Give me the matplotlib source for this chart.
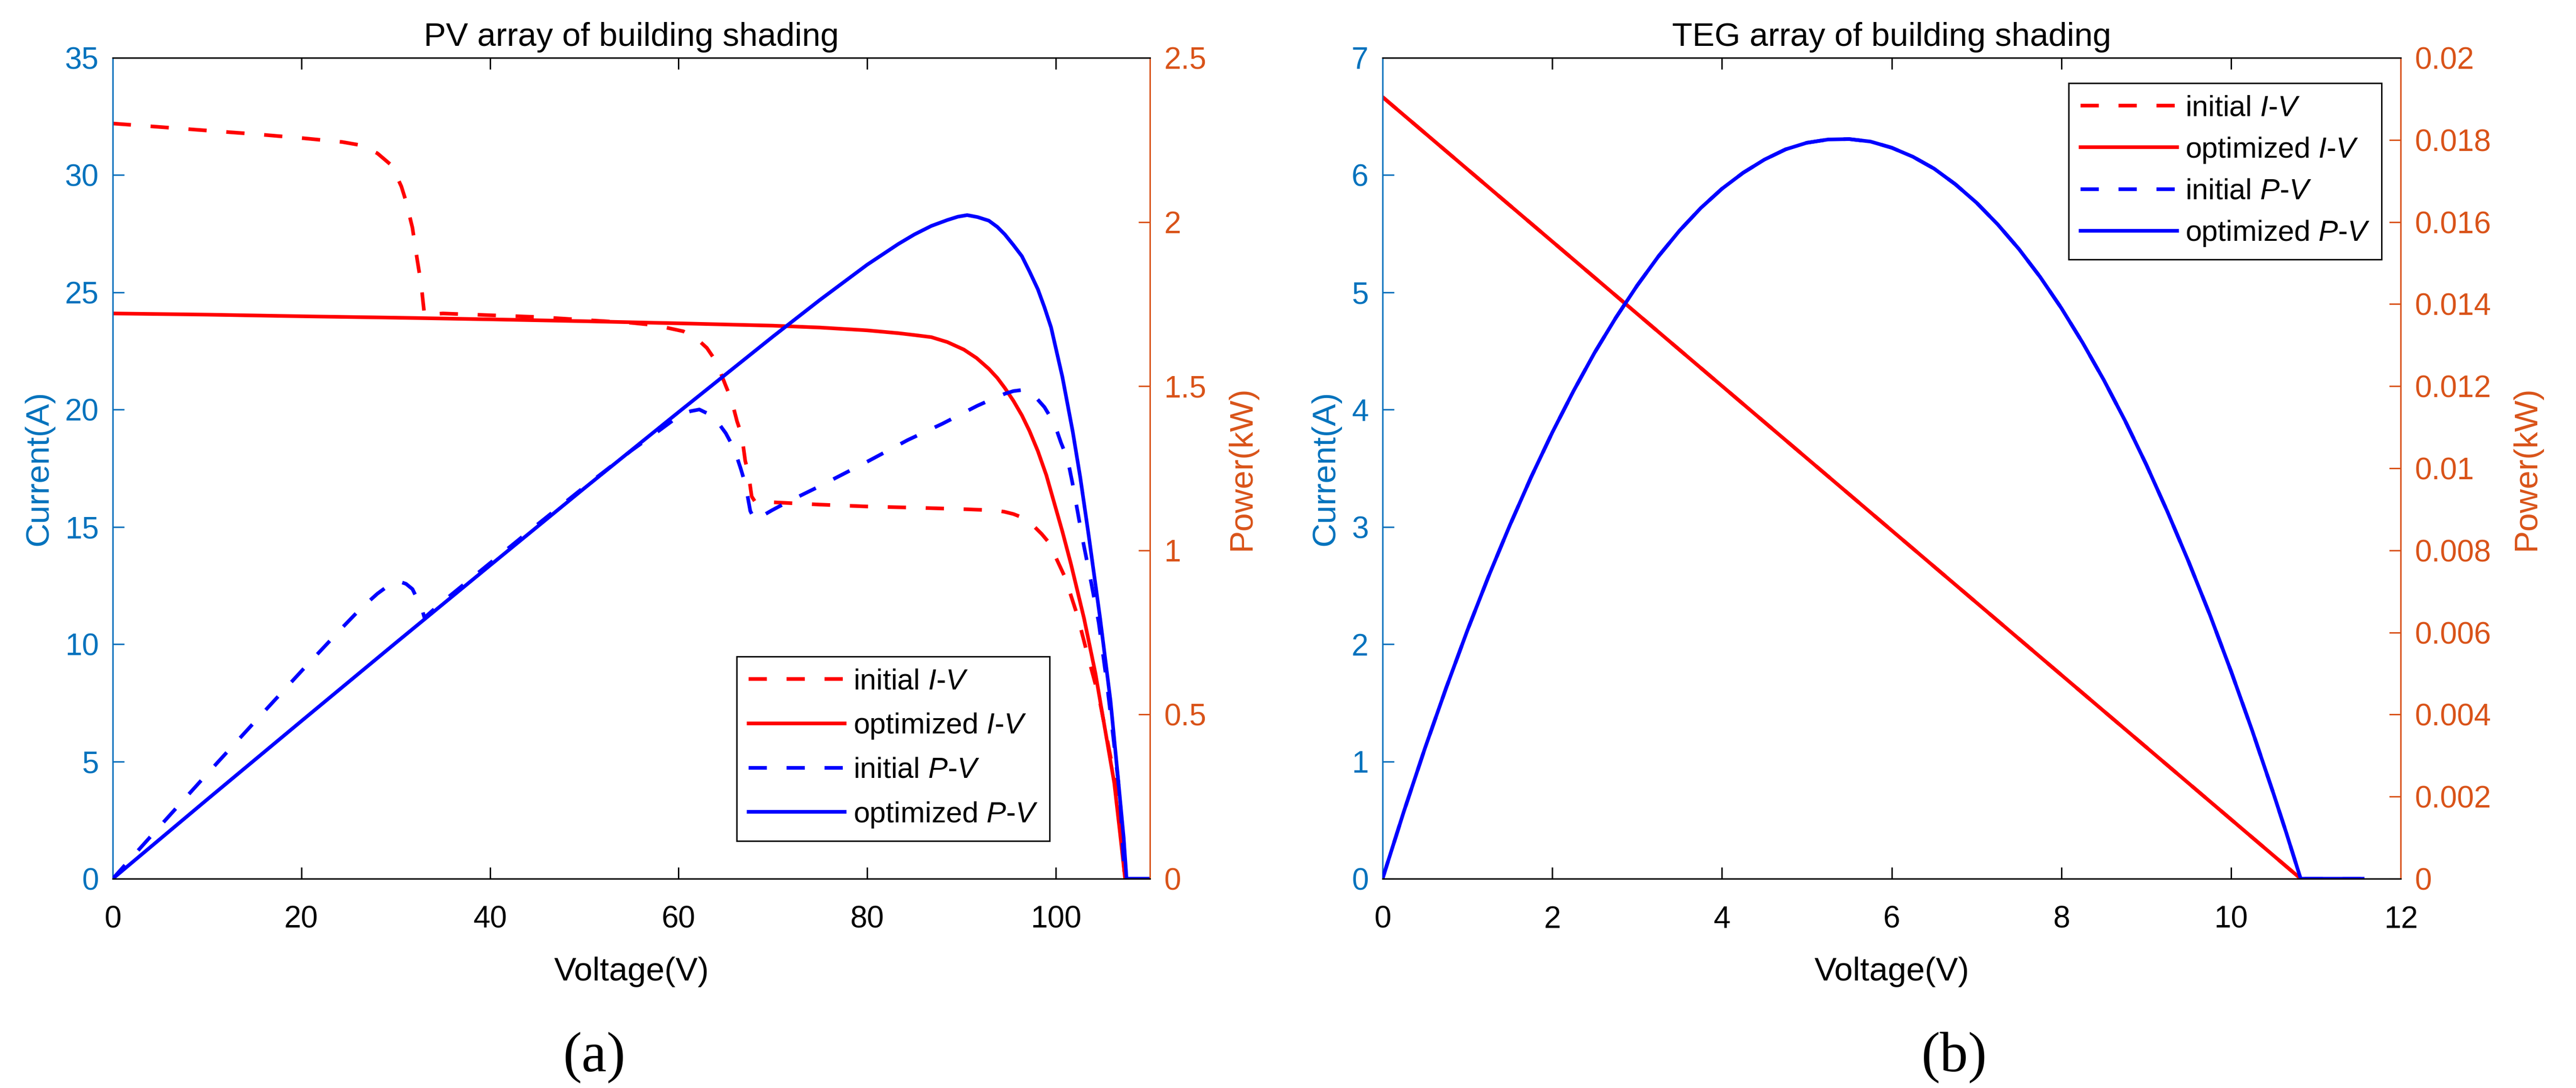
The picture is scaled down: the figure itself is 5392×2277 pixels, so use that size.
import matplotlib
matplotlib.use("Agg")
import matplotlib.pyplot as plt
from matplotlib.ticker import FuncFormatter, MultipleLocator

plt.rcParams["font.family"] = ["Liberation Sans", "DejaVu Sans"]
plt.rcParams["mathtext.fontset"] = "custom"
plt.rcParams["mathtext.rm"] = "Liberation Sans"
plt.rcParams["mathtext.it"] = "Liberation Sans:italic"

CUR_COLOR = "#0072BD"
POW_COLOR = "#D95319"
RED = "#FF0000"
BLUE = "#0000FF"

# ---------------- PV array (panel a) ----------------
pv_init_iv_v = [0, 5, 10, 15, 20, 24.35, 26.2, 28.06, 29.58, 30.6, 31.1, 31.78, 32.29, 32.71,
                33.05, 35, 45, 55, 57.5, 60.5, 62, 63, 64, 65, 65.6, 66.2, 66.7, 67.07, 67.4,
                67.75, 68.1, 70, 75, 80, 85, 90, 93.2, 94.5, 95.5, 96.2, 97.0, 97.8, 98.5,
                99.15, 100.0, 100.98, 102.3, 103.35, 104.6, 105.5, 106.4, 107.0, 107.3]
pv_init_iv_i = [32.2, 32.05, 31.9, 31.75, 31.58, 31.41, 31.28, 30.93, 30.41, 29.52, 28.88, 27.75,
                26.38, 25.33, 24.04, 24.1, 23.95, 23.7, 23.6, 23.34, 23.0, 22.63, 22.04, 21.02,
                20.43, 19.5, 18.91, 17.81, 17.3, 16.3, 16.08, 16.05, 15.95, 15.87, 15.82, 15.76,
                15.71, 15.65, 15.55, 15.44, 15.25, 14.98, 14.7, 14.39, 13.7, 12.85, 11.21, 9.57,
                7.70, 5.83, 3.96, 2.09, 0]

pv_opt_iv_v = [0, 10, 20, 30, 40, 50, 60, 70, 75, 80, 83.3, 85, 86.8, 88.5, 90.25, 91.6, 92.9,
               93.8, 94.6, 95.5, 96.4, 97.2, 98.1, 99.0, 99.85, 100.7, 101.6, 103.0, 104.2,
               105.2, 106.2, 106.8, 107.35]
pv_opt_iv_i = [24.1, 24.05, 23.98, 23.92, 23.85, 23.77, 23.68, 23.58, 23.5, 23.38, 23.26, 23.18,
               23.09, 22.88, 22.56, 22.2, 21.74, 21.35, 20.92, 20.38, 19.76, 19.1, 18.23, 17.2,
               16.0, 14.8, 13.43, 11.09, 8.76, 6.42, 4.08, 1.98, 0]

pv_init_pv_v = [0, 5, 10, 15, 20, 24.35, 26.2, 28.06, 29.58, 30.1, 30.6, 31.1, 31.78, 32.29,
                32.71, 33.05, 35, 40, 45, 50, 55, 58, 60.3, 61.3, 62.2, 63.7, 65.0, 65.9, 66.6,
                67.1, 67.6, 68.1, 69.9, 71.6, 75, 80, 84.3, 88.0, 91.65, 93.6, 94.6, 95.5, 96.3,
                97.2, 98.0, 98.8, 99.85, 100.55, 101.25, 101.8, 102.8, 103.7, 104.55, 105.4,
                106.1, 106.8, 107.3]
pv_init_pv_p = [0, 0.160, 0.319, 0.476, 0.632, 0.765, 0.820, 0.868, 0.900, 0.903, 0.903, 0.898,
                0.882, 0.852, 0.829, 0.795, 0.844, 0.961, 1.078, 1.193, 1.304, 1.366, 1.415,
                1.424, 1.429, 1.408, 1.357, 1.309, 1.248, 1.200, 1.120, 1.092, 1.122, 1.148,
                1.196, 1.270, 1.336, 1.386, 1.440, 1.465, 1.477, 1.485, 1.488, 1.480, 1.462,
                1.436, 1.386, 1.328, 1.278, 1.200, 1.040, 0.910, 0.780, 0.600, 0.430, 0.250, 0]

pv_opt_pv_v = [0, 10, 20, 30, 40, 50, 60, 70, 75, 80, 83.3, 85, 86.8, 88.5, 89.6, 90.6, 91.7,
               92.9, 93.8, 94.6, 95.5, 96.4, 97.2, 98.1, 98.8, 99.5, 100.7, 101.8, 102.6, 103.5,
               104.7, 105.8, 106.65, 107.2, 107.5, 110]
pv_opt_pv_p = [0, 0.241, 0.480, 0.718, 0.954, 1.189, 1.421, 1.651, 1.763, 1.870, 1.933, 1.962,
               1.988, 2.006, 2.016, 2.021, 2.015, 2.004, 1.985, 1.962, 1.930, 1.896, 1.850,
               1.795, 1.740, 1.679, 1.528, 1.361, 1.221, 1.043, 0.793, 0.542, 0.291, 0.124, 0, 0]

# ---------------- TEG array (panel b) ----------------
teg_iv_v = [0, 10.82]
teg_iv_i = [6.666, 0]

teg_pv_v = [0, 0.25, 0.5, 0.75, 1.0, 1.25, 1.5, 1.75, 2.0, 2.25, 2.5, 2.75, 3.0, 3.25, 3.5, 3.75,
            4.0, 4.25, 4.5, 4.75, 5.0, 5.25, 5.5, 5.75, 6.0, 6.25, 6.5, 6.75, 7.0, 7.25, 7.5,
            7.75, 8.0, 8.25, 8.5, 8.75, 9.0, 9.25, 9.5, 9.75, 10.0, 10.25, 10.5, 10.65, 10.82,
            11.55]
teg_pv_p = [0, 0.00163, 0.00318, 0.00465, 0.00605, 0.00737, 0.00861, 0.00978, 0.01087, 0.01188,
            0.01282, 0.01367, 0.01445, 0.01516, 0.01579, 0.01634, 0.01681, 0.01720, 0.01752,
            0.01777, 0.01793, 0.01801, 0.01802, 0.01796, 0.01781, 0.01759, 0.01730, 0.01692,
            0.01647, 0.01594, 0.01534, 0.01466, 0.01390, 0.01306, 0.01215, 0.01116, 0.01009,
            0.00894, 0.00772, 0.00643, 0.00505, 0.00360, 0.00207, 0.00112, 0, 0]

legend_labels = ["initial $\\mathit{I}$-$\\mathit{V}$",
                 "optimized $\\mathit{I}$-$\\mathit{V}$",
                 "initial $\\mathit{P}$-$\\mathit{V}$",
                 "optimized $\\mathit{P}$-$\\mathit{V}$"]

LW = 5.5
DASH = (0, (5, 5.4))
TICK_FS = 46
LABEL_FS = 50
SPINE_LW = 2.2


def g_fmt(x, pos):
    return "%g" % round(x, 6)


def build_panel(rect, title, xlim, xstep, ylim_i, ystep_i, ylim_p, ystep_p,
                init_iv, opt_iv, init_pv, opt_pv, legend_anchor, legend_loc, lspace):
    ax = fig.add_axes(rect)
    ax2 = ax.twinx()

    l1, = ax.plot(*init_iv, color=RED, lw=LW, linestyle=DASH)
    l2, = ax.plot(*opt_iv, color=RED, lw=LW)
    l3, = ax2.plot(*init_pv, color=BLUE, lw=LW, linestyle=DASH)
    l4, = ax2.plot(*opt_pv, color=BLUE, lw=LW)

    ax.set_xlim(*xlim)
    ax.xaxis.set_major_locator(MultipleLocator(xstep))
    ax.set_ylim(*ylim_i)
    ax.yaxis.set_major_locator(MultipleLocator(ystep_i))
    ax2.set_ylim(*ylim_p)
    ax2.yaxis.set_major_locator(MultipleLocator(ystep_p))
    ax.yaxis.set_major_formatter(FuncFormatter(g_fmt))
    ax2.yaxis.set_major_formatter(FuncFormatter(g_fmt))

    for a in (ax, ax2):
        for s in a.spines.values():
            s.set_linewidth(SPINE_LW)
        a.spines["top"].set_color("black")
        a.spines["bottom"].set_color("black")
    ax.spines["left"].set_color(CUR_COLOR)
    ax.spines["right"].set_visible(False)
    ax2.spines["left"].set_visible(False)
    ax2.spines["right"].set_color(POW_COLOR)

    ax.tick_params(axis="x", direction="in", top=True, length=17, width=SPINE_LW,
                   labelsize=TICK_FS, pad=40, colors="black")
    ax.tick_params(axis="y", direction="in", length=17, width=SPINE_LW,
                   labelsize=TICK_FS, pad=21, colors=CUR_COLOR)
    ax2.tick_params(axis="y", direction="in", length=17, width=SPINE_LW,
                    labelsize=TICK_FS, pad=21, colors=POW_COLOR)

    ax.set_xlabel("Voltage(V)", fontsize=LABEL_FS, labelpad=34)
    ax.set_ylabel("Current(A)", fontsize=LABEL_FS, color=CUR_COLOR, labelpad=16)
    ax2.set_ylabel("Power(kW)", fontsize=LABEL_FS, color=POW_COLOR, labelpad=30)
    ax.set_title(title, fontsize=LABEL_FS, pad=18)

    leg = ax2.legend([l1, l2, l3, l4], legend_labels, loc=legend_loc,
                     bbox_to_anchor=legend_anchor, fontsize=44, handlelength=3.3,
                     handletextpad=0.28, borderpad=0.4, labelspacing=lspace,
                     borderaxespad=0, fancybox=False, framealpha=1, edgecolor="black")
    leg.get_frame().set_linewidth(SPINE_LW)
    return ax, ax2


fig = plt.figure(figsize=(53.92, 22.77), dpi=100)

build_panel([0.04377, 0.19236, 0.4027, 0.7545], "PV array of building shading",
            (0, 110), 20, (0, 35), 5, (0, 2.5), 0.5,
            (pv_init_iv_v, pv_init_iv_i), (pv_opt_iv_v, pv_opt_iv_i),
            (pv_init_pv_v, pv_init_pv_p), (pv_opt_pv_v, pv_opt_pv_p),
            (0.6016, 0.046), "lower left", 0.55)

build_panel([0.5367, 0.19236, 0.3953, 0.7545], "TEG array of building shading",
            (0, 12), 2, (0, 7), 1, (0, 0.02), 0.002,
            (teg_iv_v, teg_iv_i), (teg_iv_v, teg_iv_i),
            (teg_pv_v, teg_pv_p), (teg_pv_v, teg_pv_p),
            (0.674, 0.969), "upper left", 0.46)

fig.text(0.2307, 0.028, "(a)", family="Liberation Serif", fontsize=85, ha="center", va="center")
fig.text(0.7587, 0.028, "(b)", family="Liberation Serif", fontsize=85, ha="center", va="center")

fig.savefig("out.png", dpi=100, facecolor="white")
